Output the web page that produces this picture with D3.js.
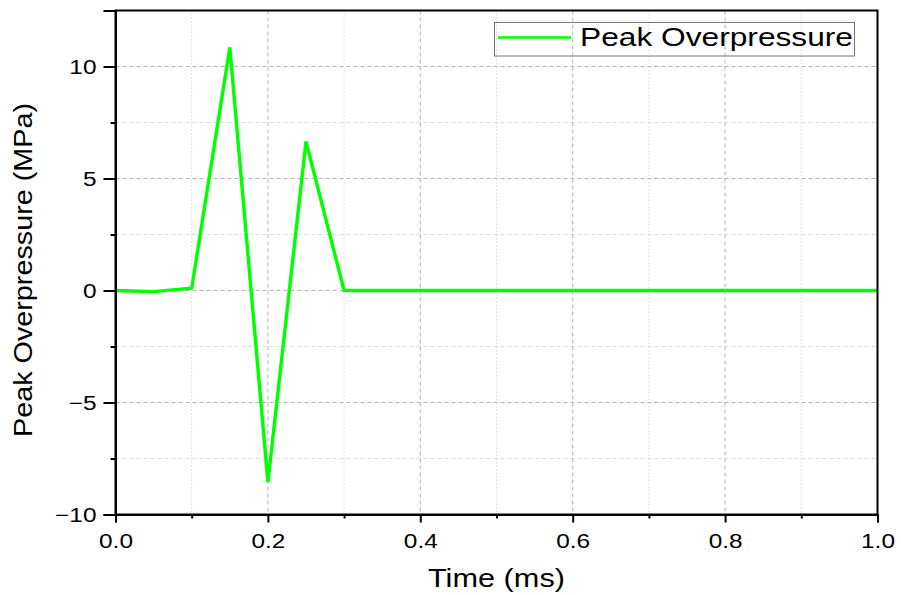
<!DOCTYPE html>
<html>
<head>
<meta charset="utf-8">
<script src="https://cdn.jsdelivr.net/npm/d3@7"></script>
<style>
  body { margin: 0; background: #fff; }
  svg text { font-family: "Liberation Sans", Arial, sans-serif; fill: #000; }
</style>
</head>
<body>
<div id="chart"></div>
<script>
// data
const timeMs = [0, 0.05, 0.1, 0.15, 0.2, 0.25, 0.3, 0.35, 0.4, 0.45, 0.5,
    0.55, 0.6, 0.65, 0.7, 0.75, 0.8, 0.85, 0.9, 0.95, 1.0];
const overpressure = [0, -0.05, 0.1, 10.85, -8.55, 6.65, 0, 0, 0, 0, 0,
    0, 0, 0, 0, 0, 0, 0, 0, 0, 0];
const xMajorTicks = [0, 0.2, 0.4, 0.6, 0.8, 1.0];
const xMinorTicks = [0.1, 0.3, 0.5, 0.7, 0.9];
const yMajorTicks = [-10, -5, 0, 5, 10];
const yMinorTicks = [-7.5, -2.5, 2.5, 7.5];
const seriesName = "Peak Overpressure";

const data = timeMs.map((t, i) => ({ t: t, p: overpressure[i] }));

const width = 901;
const height = 595;
const margin = { top: 10.5, right: 23.5, bottom: 80.5, left: 115.5 };
const innerWidth = width - margin.left - margin.right;
const innerHeight = height - margin.top - margin.bottom;
const stretch = 1.22; // the glyphs in the picture are wide

const svg = d3.select("#chart")
    .append("svg")
    .attr("width", width)
    .attr("height", height);

const innerChart = svg.append("g")
    .attr("transform", `translate(${margin.left}, ${margin.top})`);

const xScale = d3.scaleLinear()
    .domain([0, 1])
    .range([0, innerWidth]);

const yScale = d3.scaleLinear()
    .domain([-10, 12.5])
    .range([innerHeight, 0]);

// grid: minor first, then major
innerChart.append("g")
    .selectAll("line")
    .data(xMinorTicks)
    .join("line")
    .attr("x1", d => xScale(d)).attr("x2", d => xScale(d))
    .attr("y1", 0).attr("y2", innerHeight)
    .attr("stroke", "#d9d9d9")
    .attr("stroke-dasharray", "1.5,2");

innerChart.append("g")
    .selectAll("line")
    .data(yMinorTicks)
    .join("line")
    .attr("x1", 0).attr("x2", innerWidth)
    .attr("y1", d => yScale(d)).attr("y2", d => yScale(d))
    .attr("stroke", "#d9d9d9")
    .attr("stroke-dasharray", "4,3");

innerChart.append("g")
    .selectAll("line")
    .data(xMajorTicks)
    .join("line")
    .attr("x1", d => xScale(d)).attr("x2", d => xScale(d))
    .attr("y1", 0).attr("y2", innerHeight)
    .attr("stroke", "#b5b5b5")
    .attr("stroke-dasharray", "4,3");

innerChart.append("g")
    .selectAll("line")
    .data(yMajorTicks)
    .join("line")
    .attr("x1", 0).attr("x2", innerWidth)
    .attr("y1", d => yScale(d)).attr("y2", d => yScale(d))
    .attr("stroke", "#b5b5b5")
    .attr("stroke-dasharray", "4,3");

// the series
const lineGenerator = d3.line()
    .x(d => xScale(d.t))
    .y(d => yScale(d.p));

innerChart.append("path")
    .attr("d", lineGenerator(data))
    .attr("fill", "none")
    .attr("stroke", "#00ff00")
    .attr("stroke-width", 3.4)
    .attr("stroke-linejoin", "miter");

// frame
innerChart.append("rect")
    .attr("width", innerWidth)
    .attr("height", innerHeight)
    .attr("fill", "none")
    .attr("stroke", "#000")
    .attr("stroke-width", 2);

// axes
const bottomAxis = d3.axisBottom(xScale)
    .tickValues(xMajorTicks)
    .tickSize(8)
    .tickPadding(11)
    .tickFormat(d3.format(".1f"));

const bottomMinor = d3.axisBottom(xScale)
    .tickValues(xMinorTicks)
    .tickSize(4)
    .tickFormat("");

const leftAxis = d3.axisLeft(yScale)
    .tickValues(yMajorTicks)
    .tickSize(12)
    .tickPadding(7)
    .tickFormat(d => d < 0 ? "\u2212" + Math.abs(d) : d);

const leftMinor = d3.axisLeft(yScale)
    .tickValues(yMinorTicks)
    .tickSize(5)
    .tickFormat("");

[bottomAxis, bottomMinor].forEach(ax => {
    innerChart.append("g")
        .attr("class", "axis-x")
        .attr("transform", `translate(0, ${innerHeight})`)
        .call(ax);
});
[leftAxis, leftMinor].forEach(ax => {
    innerChart.append("g")
        .attr("class", "axis-y")
        .call(ax);
});

innerChart.selectAll(".axis-x .domain, .axis-y .domain")
    .attr("stroke", "#000")
    .attr("stroke-width", 2);
innerChart.selectAll(".axis-x .tick line, .axis-y .tick line")
    .attr("stroke", "#000")
    .attr("stroke-width", 2);
// minor axes carry no labels
innerChart.selectAll(".axis-x text, .axis-y text")
    .filter(function () { return this.textContent === ""; })
    .remove();
innerChart.selectAll(".axis-x text, .axis-y text")
    .attr("font-size", 20)
    .attr("font-family", "Liberation Sans, Arial, sans-serif");
// fixed baselines instead of the em offsets
innerChart.selectAll(".axis-x text")
    .attr("dy", null)
    .attr("y", 33);
innerChart.selectAll(".axis-y text")
    .attr("dy", null)
    .attr("y", 7);
// widen the glyphs like the picture
svg.selectAll(".axis-x text, .axis-y text").each(function () {
    const len = this.getComputedTextLength();
    d3.select(this)
        .attr("textLength", len * stretch)
        .attr("lengthAdjust", "spacingAndGlyphs");
});

// axis titles
svg.append("text")
    .attr("x", margin.left + innerWidth / 2)
    .attr("y", 587)
    .attr("text-anchor", "middle")
    .attr("font-size", 25)
    .attr("textLength", 137)
    .attr("lengthAdjust", "spacingAndGlyphs")
    .text("Time (ms)");

svg.append("text")
    .attr("transform", "translate(31.5, 270) rotate(-90)")
    .attr("text-anchor", "middle")
    .attr("font-size", 26)
    .attr("textLength", 334)
    .attr("lengthAdjust", "spacingAndGlyphs")
    .text("Peak Overpressure (MPa)");

// legend
const legend = svg.append("g");

legend.append("rect")
    .attr("x", 494.5)
    .attr("y", 22.5)
    .attr("width", 360)
    .attr("height", 33.5)
    .attr("fill", "none")
    .attr("stroke", "#777")
    .attr("stroke-width", 1);

legend.append("line")
    .attr("x1", 498)
    .attr("x2", 571)
    .attr("y1", 37.5)
    .attr("y2", 37.5)
    .attr("stroke", "#00ff00")
    .attr("stroke-width", 2.5);

legend.append("text")
    .attr("x", 580)
    .attr("y", 46)
    .attr("font-size", 26)
    .attr("textLength", 273)
    .attr("lengthAdjust", "spacingAndGlyphs")
    .text(seriesName);
</script>
</body>
</html>
